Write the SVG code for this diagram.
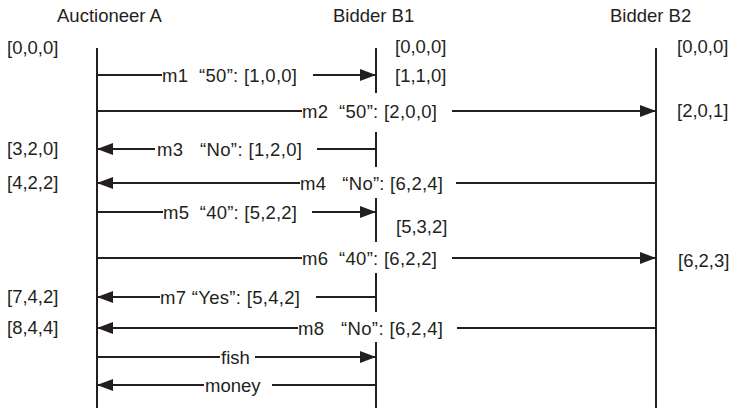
<svg xmlns="http://www.w3.org/2000/svg" width="733" height="410" viewBox="0 0 733 410">
  <style>
    text { font-family: "Liberation Sans", Arial, Helvetica, sans-serif; font-size: 18.5px; fill: #231f20; }
    .life { stroke: #231f20; stroke-width: 2; fill: none; }
    .msg { stroke: #231f20; stroke-width: 2; fill: none; }
  </style>
  <defs>
    <marker id="head" viewBox="0 0 16 12" refX="16" refY="6" markerWidth="16" markerHeight="12" markerUnits="userSpaceOnUse" orient="auto">
      <path d="M0,0 L16,6 L0,12 Z" fill="#231f20"/>
    </marker>
  </defs>
  <rect width="733" height="410" fill="#ffffff"/>

  <!-- process A -->
  <g id="auctioneer-a">
    <text x="57" y="22">Auctioneer A</text>
    <line class="life" x1="97" y1="48" x2="97" y2="408"/>
    <text x="7" y="54">[0,0,0]</text>
    <text x="7" y="155">[3,2,0]</text>
    <text x="7" y="189">[4,2,2]</text>
    <text x="7" y="303">[7,4,2]</text>
    <text x="7" y="334">[8,4,4]</text>
  </g>

  <!-- process B1: broken where passing labels cross -->
  <g id="bidder-b1">
    <text x="333" y="22">Bidder B1</text>
    <path class="life" d="M376,48 V93 M376,132 V167 M376,198 V242 M376,273 V312 M376,342 V408"/>
    <text x="395" y="53">[0,0,0]</text>
    <text x="395" y="82">[1,1,0]</text>
    <text x="396" y="233">[5,3,2]</text>
  </g>

  <!-- process B2 -->
  <g id="bidder-b2">
    <text x="610" y="22">Bidder B2</text>
    <line class="life" x1="656" y1="48" x2="656" y2="408"/>
    <text x="677" y="53">[0,0,0]</text>
    <text x="677" y="117">[2,0,1]</text>
    <text x="678" y="267">[6,2,3]</text>
  </g>

  <!-- messages -->
  <g id="connectors">
    <path class="msg" d="M97,75 H162"/>
    <path class="msg" d="M313,75 H376" marker-end="url(#head)"/>
    <text x="162" y="81.5" xml:space="preserve" textLength="135">m1  “50”: [1,0,0]</text>

    <path class="msg" d="M97,111 H302"/>
    <path class="msg" d="M452,111 H656" marker-end="url(#head)"/>
    <text x="302" y="117.5" xml:space="preserve" textLength="135">m2  “50”: [2,0,0]</text>

    <path class="msg" d="M155,149 H97" marker-end="url(#head)"/>
    <path class="msg" d="M317,149 H376"/>
    <text x="157" y="155.5" xml:space="preserve" textLength="145">m3   “No”: [1,2,0]</text>

    <path class="msg" d="M300,183 H97" marker-end="url(#head)"/>
    <path class="msg" d="M456,183 H656"/>
    <text x="300" y="189.5" xml:space="preserve" textLength="143">m4   “No”: [6,2,4]</text>

    <path class="msg" d="M97,212 H163"/>
    <path class="msg" d="M312,212 H376" marker-end="url(#head)"/>
    <text x="163" y="218.5" xml:space="preserve" textLength="134">m5  “40”: [5,2,2]</text>

    <path class="msg" d="M97,258 H302"/>
    <path class="msg" d="M452,258 H656" marker-end="url(#head)"/>
    <text x="302" y="264.5" xml:space="preserve" textLength="135">m6  “40”: [6,2,2]</text>

    <path class="msg" d="M160,297 H97" marker-end="url(#head)"/>
    <path class="msg" d="M316,297 H376"/>
    <text x="160" y="303.5" xml:space="preserve" textLength="140">m7 “Yes”: [5,4,2]</text>

    <path class="msg" d="M298,328 H97" marker-end="url(#head)"/>
    <path class="msg" d="M457,328 H656"/>
    <text x="298" y="334.5" xml:space="preserve" textLength="145">m8   “No”: [6,2,4]</text>

    <path class="msg" d="M97,357 H220"/>
    <path class="msg" d="M255,357 H376" marker-end="url(#head)"/>
    <text x="221" y="363.5">fish</text>

    <path class="msg" d="M204,385 H97" marker-end="url(#head)"/>
    <path class="msg" d="M272,385 H376"/>
    <text x="205" y="391.5">money</text>
  </g>
</svg>
